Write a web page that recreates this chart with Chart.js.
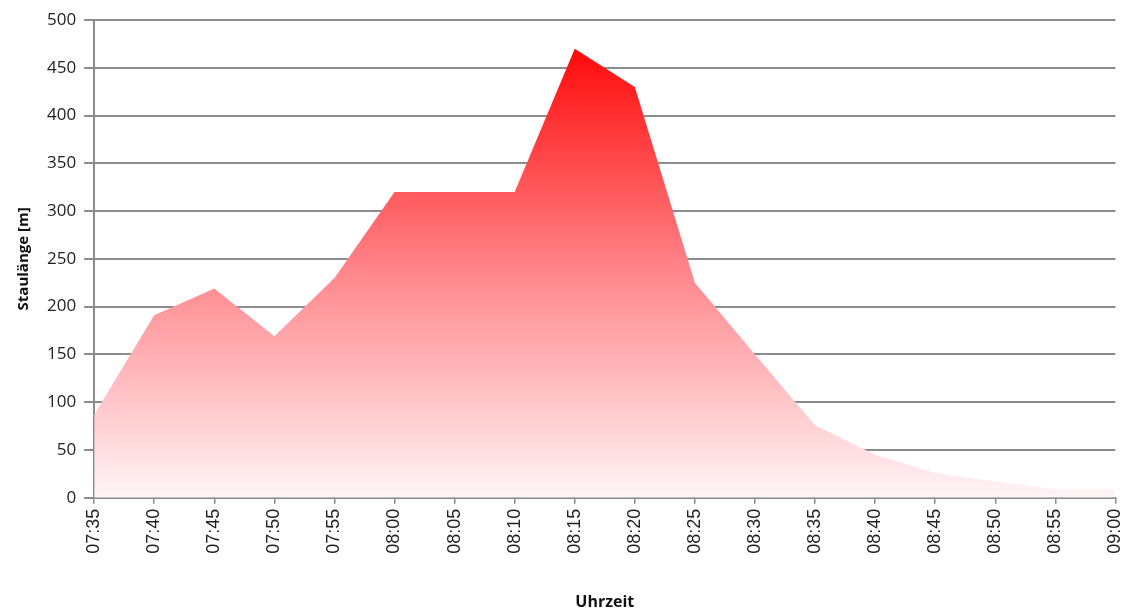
<!DOCTYPE html>
<html>
<head>
<meta charset="utf-8">
<script src="https://cdn.jsdelivr.net/npm/chart.js@4"></script>
<style>
  html, body { margin: 0; padding: 0; background: #fff; overflow: hidden; }
  #wrap { position: absolute; left: 0; top: 0; width: 1142px; height: 614px; }
</style>
</head>
<body>
<div id="wrap"><canvas id="myChart"></canvas></div>
<script>
// Staulänge over time
const times = ['07:35','07:40','07:45','07:50','07:55','08:00','08:05','08:10','08:15',
  '08:20','08:25','08:30','08:35','08:40','08:45','08:50','08:55','09:00'];
const queueLen = [87, 191, 219, 169, 230, 320, 320, 320, 470, 430, 225, 150, 76, 45, 26, 17, 9, 9];
const yTicks = [0, 50, 100, 150, 200, 250, 300, 350, 400, 450, 500];

const ctx = document.getElementById('myChart').getContext('2d');

function redFill(context) {
  const chart = context.chart;
  const area = chart.chartArea;
  if (!area) return 'rgba(255,0,0,0.5)';
  const y = chart.scales.y;
  const top = y.getPixelForValue(Math.max(...queueLen));
  const g = chart.ctx.createLinearGradient(0, top, 0, area.bottom);
  g.addColorStop(0, 'rgb(255,10,10)');
  g.addColorStop(0.5, 'rgb(255,135,140)');
  g.addColorStop(1, 'rgb(255,245,247)');
  return g;
}

const myChart = new Chart(ctx, {
  type: 'line',
  data: {
    labels: times,
    datasets: [{
      label: 'Staulänge [m]',
      data: queueLen,
      fill: 'origin',
      backgroundColor: redFill,
      borderWidth: 0,
      borderColor: 'rgba(0,0,0,0)',
      pointRadius: 0,
      tension: 0
    }]
  },
  options: {
    responsive: true,
    maintainAspectRatio: false,
    animation: false,
    layout: { padding: { top: 20, right: 0, left: 15, bottom: 2 } },
    plugins: {
      legend: { display: false },
      tooltip: { enabled: false }
    },
    scales: {
      x: {
        offset: false,
        grid: { drawOnChartArea: false, drawTicks: true, tickLength: 6, color: '#8c8c8c', lineWidth: 1.5 },
        border: { color: '#8c8c8c', width: 2 },
        ticks: {
          color: '#222',
          font: { family: 'Liberation Sans Narrow, Liberation Sans', size: 18 },
          minRotation: 90, maxRotation: 90, autoSkip: false, padding: 5
        },
        title: {
          display: true, text: 'Uhrzeit', color: '#111',
          font: { family: 'Open Sans', weight: 'bold', size: 16 },
          padding: { top: 34, bottom: 0 }
        }
      },
      y: {
        min: 0, max: 500,
        afterBuildTicks: (axis) => { axis.ticks = yTicks.map(v => ({ value: v })); },
        grid: { color: '#8c8c8c', lineWidth: 2, tickLength: 10, drawTicks: true },
        border: { color: '#8c8c8c', width: 2 },
        ticks: {
          color: '#222',
          font: { family: 'Open Sans', size: 17 },
          padding: 8
        },
        title: {
          display: true, text: 'Staulänge [m]', color: '#111',
          font: { family: 'Open Sans', weight: 'bold', size: 15 },
          padding: { top: 0, bottom: 6 }
        }
      }
    }
  }
});
</script>
</body>
</html>
